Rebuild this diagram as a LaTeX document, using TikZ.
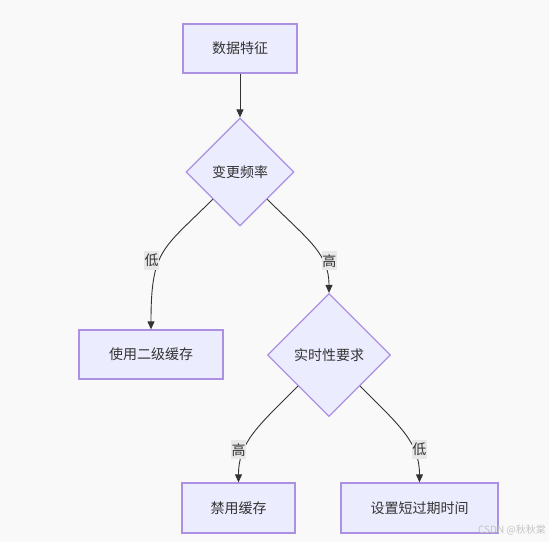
\documentclass[tikz,border=0pt]{standalone}
\usepackage{fontspec}
\setmainfont{Noto Sans CJK SC}
\usetikzlibrary{shapes.geometric,arrows.meta}
\definecolor{nodefill}{HTML}{ECECFF}
\definecolor{nodeline}{HTML}{AC90E2}
\definecolor{edgeline}{HTML}{333333}
\definecolor{labelfill}{HTML}{E8E8E8}
\definecolor{pagebg}{HTML}{F9F9F9}
\definecolor{markgray}{HTML}{C4C4C4}
\begin{document}
\begin{tikzpicture}[node distance=123.5pt, font=\fontsize{14pt}{17pt}\selectfont,
    box/.style={draw=nodeline, fill=nodefill, line width=1.3pt, text=edgeline, minimum height=49pt},
    choice/.style={diamond, aspect=1, draw=nodeline, fill=nodefill, line width=1.2pt, text=edgeline, inner sep=0pt},
    edgelabel/.style={fill=labelfill, text=edgeline, inner sep=0.5pt, minimum height=19pt},
    link/.style={draw=edgeline, line width=0.9pt, -{Triangle[length=8pt,width=7pt]}}]
    \fill[pagebg] (0,0) rectangle (549pt,-542pt);
    \useasboundingbox (0,0) rectangle (549pt,-542pt);
          \node[box, minimum width=114pt] (1) at (240pt,-48.5pt) {数据特征};
          \node[choice, minimum size=108pt] (2) [below of=1] {变更频率};
          \node[box, minimum width=144pt] (3) [below of=2, node distance=182.5pt, xshift=-89pt] {使用二级缓存};
          \node[choice, minimum size=123pt] (4) [below of=2, node distance=183pt, xshift=89pt] {实时性要求};
          \node[box, minimum width=113pt, minimum height=50pt] (5) [below of=4, node distance=153pt, xshift=-90.5pt] {禁用缓存};
          \node[box, minimum width=157pt, minimum height=50pt] (6) [below of=4, node distance=153pt, xshift=90.5pt] {设置短过期时间};
          \node[text=markgray, font=\fontsize{10pt}{12pt}\selectfont] (7) at (512pt,-530pt) {CSDN @秋秋棠};

          \draw[link] (1) -- (2);
          \draw[link] (2.south west) .. controls +(-50pt,-50pt) and +(0,80pt) .. (3.north) node[edgelabel, pos=0.57, xshift=-8pt] {低};
          \draw[link] (2.south east) .. controls +(40pt,-40pt) and +(0,40pt) .. (4.north) node[edgelabel, pos=0.68, xshift=7pt] {高};
          \draw[link] (4.south west) .. controls +(-40pt,-40pt) and +(0,40pt) .. (5.north) node[edgelabel, pos=0.68, xshift=-6pt] {高};
          \draw[link] (4.south east) .. controls +(40pt,-40pt) and +(0,40pt) .. (6.north) node[edgelabel, pos=0.68, xshift=6pt] {低};
    \end{tikzpicture}
\end{document}
